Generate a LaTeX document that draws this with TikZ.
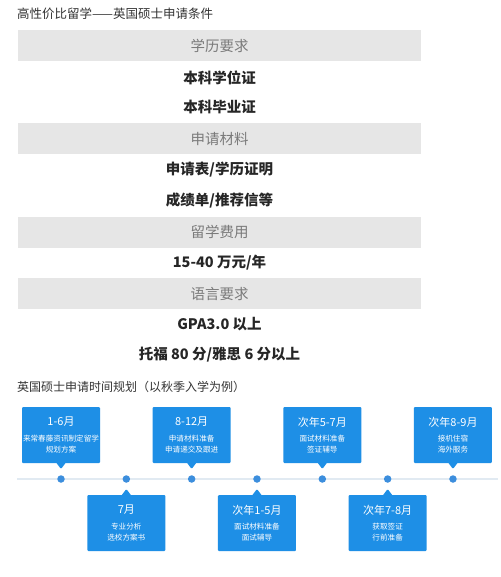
\documentclass[tikz,border=0pt]{standalone}
\usepackage{fontspec}
\setmainfont{Noto Sans CJK SC}
\usetikzlibrary{calc,positioning,shapes.callouts}
\definecolor{bargray}{HTML}{E6E6E6}
\definecolor{headtext}{HTML}{7A7A7A}
\definecolor{boxblue}{HTML}{1E8FE6}
\definecolor{dotblue}{HTML}{3C8EDD}
\definecolor{linegray}{HTML}{E1EAF2}
\tikzset{
    head bar/.style={
        fill=bargray,minimum width=403pt,minimum height=31pt,
        text=headtext,font=\fontsize{14.5}{16}\selectfont
    },
    item line/.style={
        text=black!85,font=\bfseries\fontsize{14.5}{16}\selectfont
    },
    plan box/.style={
        rectangle callout,fill=boxblue,rounded corners=1pt,
        minimum width=78pt,minimum height=56pt,inner sep=1pt,
        callout pointer width=9pt,text=white,align=center,
        font=\fontsize{7.6}{11}\selectfont
    },
    plan dot/.style={circle,fill=dotblue,inner sep=0pt,minimum size=7.5pt}
}

\begin{document}
\begin{tikzpicture}[x=1pt,y=-1pt]
\fill[white] (0,0) rectangle (500,577);
\useasboundingbox (0,0) rectangle (500,577);
\node[anchor=west,inner sep=0pt,text=black!80,font=\fontsize{12.5}{14}\selectfont] (title) at (17,14) {高性价比留学——英国硕士申请条件};
\foreach \i/\y/\name in {0/46/学历要求,1/138.5/申请材料,2/232/留学费用,3/293.5/语言要求}
    \node[head bar] (head_\i) at (219.5,\y) {\name};
\foreach \i/\y/\name in {0/78/本科学位证,1/107/本科毕业证,2/170/{申请表/学历证明},3/201/{成绩单/推荐信等},4/263/{15-40 万元/年},5/324/GPA3.0 以上,6/355/{托福 80 分/雅思 6 分以上}}
    \node[item line] (item_\i) at (219.5,\y) {\name};
\node[anchor=west,inner sep=0pt,text=black!80,font=\fontsize{12}{14}\selectfont] (plan title) at (17,387) {英国硕士申请时间规划（以秋季入学为例）};
\coordinate (line_start) at (17,479);
\coordinate (line_end) at (498,479);
\draw[linegray,line width=2pt] (line_start) -- (line_end);
\foreach \i in {0,...,6}
    \node[plan dot] (dot_\i) at (61+65.33*\i,479) {};
\foreach \i/\s/\month/\first/\second in {0/-1/1-6月/来常春藤资讯制定留学/规划方案,1/1/7月/专业分析/选校方案书,2/-1/8-12月/申请材料准备/申请递交及跟进,3/1/次年1-5月/面试材料准备/面试辅导,4/-1/次年5-7月/面试材料准备/签证辅导,5/1/次年7-8月/获取签证/行前准备,6/-1/次年8-9月/接机住宿/海外服务}
    \node[plan box,callout absolute pointer={($(dot_\i)+(0,10*\s)$)}] (plan_\i) at ($(dot_\i)+(0,44*\s)$)
        {{\fontsize{11}{13}\selectfont\month}\\[4.5pt]\first\\\second};
\end{tikzpicture}
\end{document}
